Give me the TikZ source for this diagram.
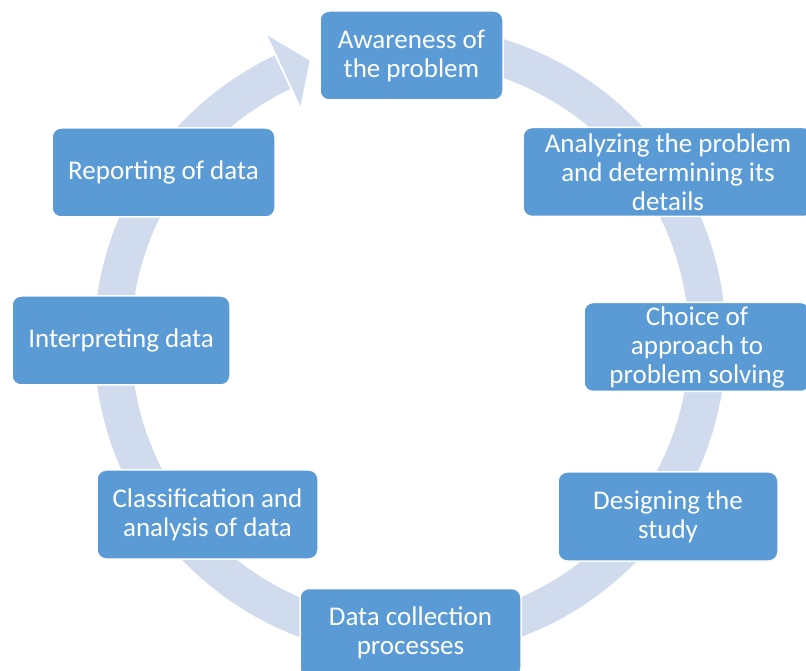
\documentclass[tikz,border=0pt]{standalone}
\usepackage{fontspec}
\setmainfont{Carlito}
\definecolor{boxblue}{RGB}{91,155,213}
\definecolor{ringblue}{RGB}{208,220,238}

\begin{document}
\begin{tikzpicture}[x=1pt,y=1pt,
  stage/.style={draw=white,line width=1.5pt,fill=boxblue,rounded corners=9pt,
    text=white,align=center,font=\fontsize{27}{29}\selectfont,inner sep=0pt,
    minimum height=89pt}]
\useasboundingbox (0,0) rectangle (806,670);
\clip (0,0) rectangle (806,670);
% the cycle ring, with its arrow head
\coordinate (c) at (410,329);
\draw[ringblue,line width=37pt] ([shift={(100:297.5)}]c) arc[start angle=100,end angle=-244.6,radius=297.5];
\fill[ringblue] ([shift={(115:337)}]c) -- ([shift={(109.7:298)}]c) -- ([shift={(115:259)}]c) -- cycle;
% the stages
\node[stage,minimum width=183pt] (aware) at (411.5,614.5) {Awareness of\\the problem};
\node[stage,minimum width=290pt] (analyze) at (668,498) {Analyzing the problem\\and determining its\\details};
\node[stage,minimum width=226pt] (choice) at (697,323) {Choice of\\approach to\\problem solving};
\node[stage,minimum width=220pt] (design) at (668,153.5) {Designing the\\study};
\node[stage,minimum width=221pt] (collect) at (410.5,37) {Data collection\\processes};
\node[stage,minimum width=221pt] (classify) at (207.5,155.5) {Classification and\\analysis of data};
\node[stage,minimum width=218pt] (interpret) at (121,329.5) {Interpreting data};
\node[stage,minimum width=223pt] (report) at (163.5,497.5) {Reporting of data};
\end{tikzpicture}
\end{document}
